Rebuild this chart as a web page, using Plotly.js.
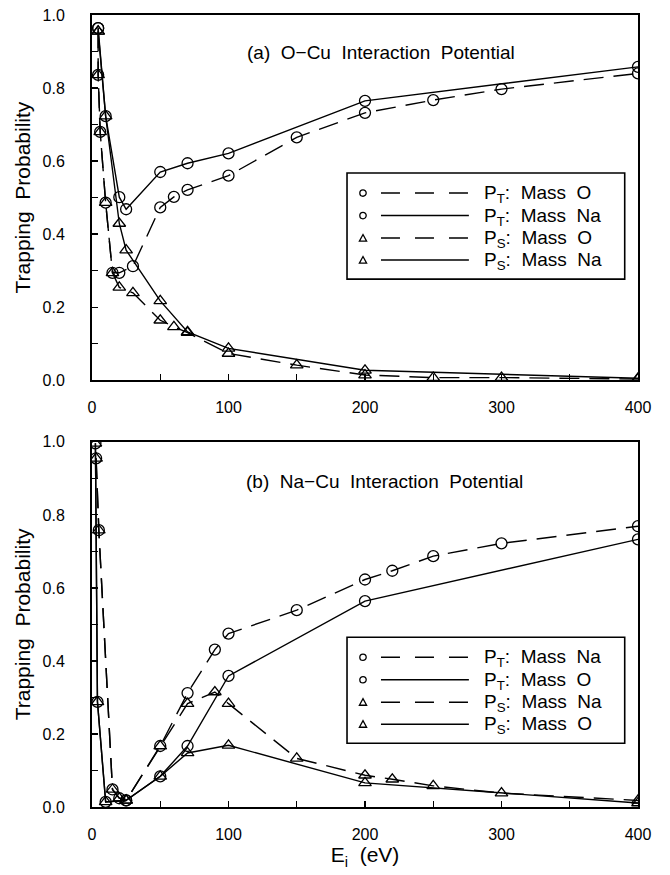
<!DOCTYPE html>
<html>
<head>
<meta charset="utf-8">
<script src="https://cdn.plot.ly/plotly-3.0.1.min.js"></script>
<style>html,body{margin:0;padding:0;background:#fff;}#chart{width:670px;height:875px;}</style>
</head>
<body>
<div id="chart"></div>
<script>
// ---- Data: panel (a) O-Cu interaction potential ----
const aE_PT_O  = [4.5, 4.5, 6, 10, 15, 20, 30, 50, 60, 70, 100, 150, 200, 250, 300, 400];
const aPT_O    = [0.964, 0.836, 0.680, 0.486, 0.294, 0.294, 0.312, 0.473, 0.502, 0.521, 0.560, 0.665, 0.732, 0.767, 0.797, 0.840];
const aE_PT_Na = [4.5, 10, 20, 25, 50, 70, 100, 200, 400];
const aPT_Na   = [0.964, 0.723, 0.501, 0.468, 0.570, 0.594, 0.621, 0.765, 0.858];
const aE_PS_O  = [4.5, 4.5, 6, 10, 15, 20, 30, 50, 60, 70, 100, 150, 200, 250, 300, 400];
const aPS_O    = [0.955, 0.836, 0.680, 0.486, 0.294, 0.254, 0.239, 0.164, 0.146, 0.130, 0.073, 0.041, 0.014, 0.007, 0.007, 0.003];
const aE_PS_Na = [4.5, 10, 20, 25, 50, 70, 100, 200, 400];
const aPS_Na   = [0.955, 0.723, 0.429, 0.356, 0.217, 0.132, 0.087, 0.027, 0.005];

// ---- Data: panel (b) Na-Cu interaction potential ----
const bE_PT_Na = [3, 5, 15, 20, 25, 50, 70, 90, 100, 150, 200, 220, 250, 300, 400];
const bPT_Na   = [0.955, 0.758, 0.048, 0.024, 0.018, 0.167, 0.312, 0.431, 0.475, 0.539, 0.623, 0.647, 0.687, 0.722, 0.769];
const bE_PT_O  = [2.5, 4, 10, 25, 50, 70, 100, 200, 400];
const bPT_O    = [0.996, 0.288, 0.014, 0.018, 0.084, 0.167, 0.359, 0.564, 0.733];
const bE_PS_Na = [3, 5, 15, 20, 25, 50, 70, 90, 100, 150, 200, 220, 250, 300, 400];
const bPS_Na   = [0.955, 0.758, 0.048, 0.024, 0.018, 0.167, 0.283, 0.315, 0.283, 0.133, 0.087, 0.076, 0.058, 0.038, 0.018];
const bE_PS_O  = [2.5, 4, 10, 25, 50, 70, 100, 200, 400];
const bPS_O    = [0.996, 0.288, 0.014, 0.018, 0.084, 0.148, 0.169, 0.066, 0.011];

// ---- Labels ----
const titleA = "(a)\u00a0 O\u2212Cu\u00a0 Interaction\u00a0 Potential";
const titleB = "(b)\u00a0 Na\u2212Cu\u00a0 Interaction\u00a0 Potential";
const legendA = ["P<sub>T</sub>:\u00a0 Mass\u00a0 O", "P<sub>T</sub>:\u00a0 Mass\u00a0 Na", "P<sub>S</sub>:\u00a0 Mass\u00a0 O", "P<sub>S</sub>:\u00a0 Mass\u00a0 Na"];
const legendB = ["P<sub>T</sub>:\u00a0 Mass\u00a0 Na", "P<sub>T</sub>:\u00a0 Mass\u00a0 O", "P<sub>S</sub>:\u00a0 Mass\u00a0 Na", "P<sub>S</sub>:\u00a0 Mass\u00a0 O"];
const legendSymbols = ["circle", "circle", "triangle", "triangle"];
const legendDashed = [true, false, true, false];
const yTitle = "Trapping\u00a0 Probability";
const xTitle = "E<sub>i</sub>\u00a0 (eV)";

// ---- Geometry (pixels) ----
const W = 670, H = 875;
const PL = 91.7, PR = 638.3, PT = 15, PB = 806.7;
const M = {l: PL, r: W - PR, t: PT, b: H - PB};
const px2x = p => (p - PL) / (PR - PL);
const px2y = p => (PB - p) / (PB - PT);

const DASH = "20px,10px";
const lineW = 1.4;
const mk = (sym) => ({symbol: sym + "-open", size: 11, color: "#000", line: {width: 1.3, color: "#000"}});

function tr(x, y, dashed, sym, xa, ya, name) {
  return {x: x, y: y, xaxis: xa, yaxis: ya, mode: "lines+markers", name: name, showlegend: false,
          line: {color: "#000", width: lineW, dash: dashed ? DASH : "solid"}, marker: mk(sym),
          hoverinfo: "x+y"};
}

const data = [
  tr(aE_PT_O, aPT_O, true, "circle", "x", "y", "PT Mass O"),
  tr(aE_PT_Na, aPT_Na, false, "circle", "x", "y", "PT Mass Na"),
  tr(aE_PS_O, aPS_O, true, "triangle-up", "x", "y", "PS Mass O"),
  tr(aE_PS_Na, aPS_Na, false, "triangle-up", "x", "y", "PS Mass Na"),
  tr(bE_PT_Na, bPT_Na, true, "circle", "x2", "y2", "PT Mass Na"),
  tr(bE_PT_O, bPT_O, false, "circle", "x2", "y2", "PT Mass O"),
  tr(bE_PS_Na, bPS_Na, true, "triangle-up", "x2", "y2", "PS Mass Na"),
  tr(bE_PS_O, bPS_O, false, "triangle-up", "x2", "y2", "PS Mass O")
];

const FONT = "Liberation Sans, Arial, sans-serif";
const tickFont = {family: FONT, size: 16, color: "#000"};

function xax(anchor) {
  return {domain: [0, 1], anchor: anchor, range: [0, 400], dtick: 100, tick0: 0,
          ticks: "inside", ticklen: 6, tickwidth: 1.2, tickcolor: "#000",
          minor: {dtick: 50, ticks: "inside", ticklen: 6, tickwidth: 1.2, tickcolor: "#000"},
          showline: true, linewidth: 2, linecolor: "#000", mirror: true,
          showgrid: false, zeroline: false, tickfont: tickFont, ticklabelstandoff: 12};
}
function yax(anchor, dom) {
  return {domain: dom, anchor: anchor, range: [0, 1], dtick: 0.2, tick0: 0, tickformat: ".1f",
          ticks: "inside", ticklen: 6, tickwidth: 1.2, tickcolor: "#000",
          minor: {dtick: 0.1, ticks: "inside", ticklen: 6, tickwidth: 1.2, tickcolor: "#000"},
          showline: true, linewidth: 2, linecolor: "#000", mirror: true,
          showgrid: false, zeroline: false, tickfont: tickFont, ticklabelstandoff: 22,
          title: {text: yTitle, font: {family: FONT, size: 21, color: "#000"}, standoff: 6}};
}

const topDom = [px2y(380), 1];
const botDom = [0, px2y(441.7)];

const xa1 = xax("y");
const xa2 = xax("y2");
xa2.title = {text: xTitle, font: {family: FONT, size: 21, color: "#000"}, standoff: 5};

const shapes = [];
const annotations = [
  {text: titleA, x: px2x(381), y: px2y(52), xref: "paper", yref: "paper", showarrow: false,
   font: {family: FONT, size: 19, color: "#000"}, xanchor: "center", yanchor: "middle"},
  {text: titleB, x: px2x(385), y: px2y(481), xref: "paper", yref: "paper", showarrow: false,
   font: {family: FONT, size: 19, color: "#000"}, xanchor: "center", yanchor: "middle"}
];

function buildLegend(boxTop, labels) {
  const bx0 = 347, bx1 = 625, by0 = boxTop, by1 = boxTop + 106;
  shapes.push({type: "rect", xref: "paper", yref: "paper", x0: px2x(bx0), x1: px2x(bx1),
               y0: px2y(by1), y1: px2y(by0), line: {color: "#000", width: 1.6}, fillcolor: "#fff", layer: "above"});
  const rows = [20, 42.5, 65, 87];
  labels.forEach((lab, i) => {
    const cy = boxTop + rows[i];
    const mx = 363, r = 3.2;
    if (legendSymbols[i] === "circle") {
      shapes.push({type: "circle", xref: "paper", yref: "paper", x0: px2x(mx - r), x1: px2x(mx + r),
                   y0: px2y(cy + r), y1: px2y(cy - r), line: {color: "#000", width: 1.3}, layer: "above"});
    } else {
      const p = (a, b) => px2x(a).toFixed(5) + "," + px2y(b).toFixed(5);
      shapes.push({type: "path", xref: "paper", yref: "paper",
                   path: "M" + p(mx - 3.6, cy + 3) + " L" + p(mx + 3.6, cy + 3) + " L" + p(mx, cy - 3.6) + " Z",
                   line: {color: "#000", width: 1.3}, layer: "above"});
    }
    shapes.push({type: "line", xref: "paper", yref: "paper", x0: px2x(381), x1: px2x(469),
                 y0: px2y(cy), y1: px2y(cy), line: {color: "#000", width: 1.5, dash: legendDashed[i] ? "19px,15px" : "solid"}, layer: "above"});
    annotations.push({text: lab, x: px2x(482), y: px2y(cy + 1), xref: "paper", yref: "paper", showarrow: false,
                      xanchor: "left", yanchor: "middle", font: {family: FONT, size: 19, color: "#000"}});
  });
}
buildLegend(173, legendA);
buildLegend(637, legendB);

const layout = {
  width: W, height: H, margin: M, paper_bgcolor: "#fff", plot_bgcolor: "#fff",
  showlegend: false, font: {family: FONT, color: "#000"},
  xaxis: xa1, yaxis: yax("x", topDom), xaxis2: xa2, yaxis2: yax("x2", botDom),
  shapes: shapes, annotations: annotations
};

Plotly.newPlot("chart", data, layout, {staticPlot: true});
</script>
</body>
</html>
